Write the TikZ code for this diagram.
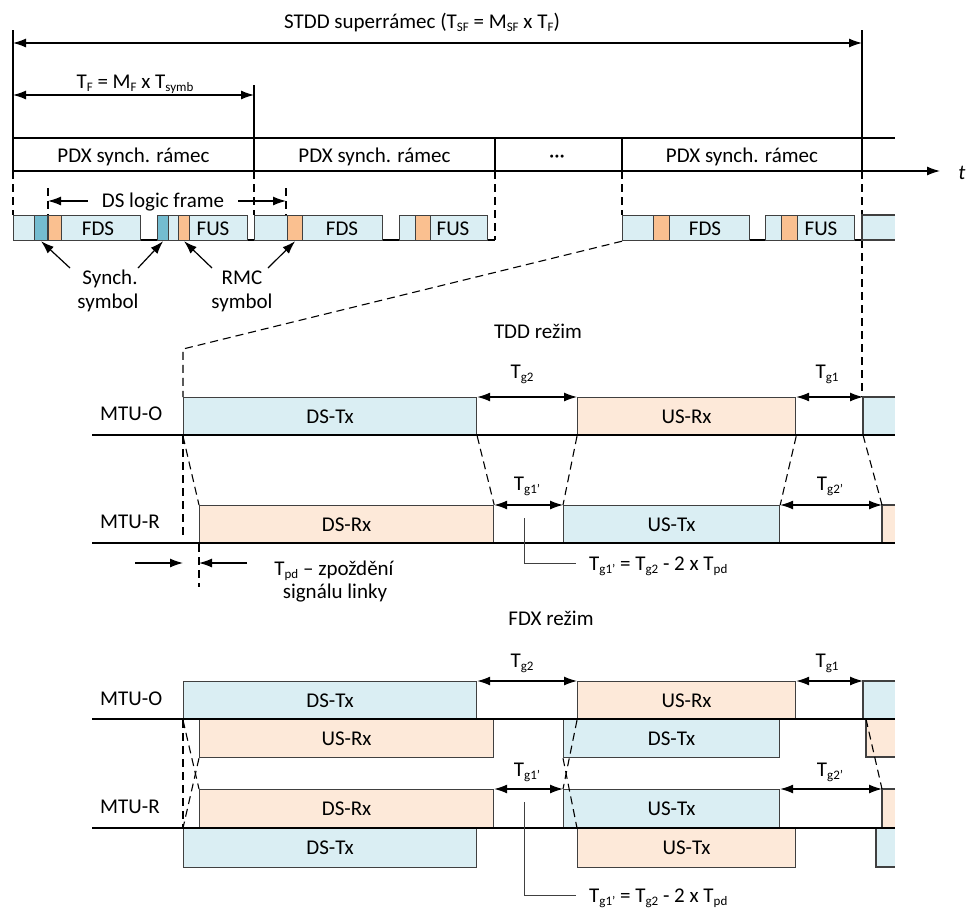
\documentclass[tikz,border=0pt]{standalone}
\usepackage{fontspec}
\setmainfont{Carlito}
\usetikzlibrary{arrows.meta}
\definecolor{blueL}{HTML}{DAEEF3}
\definecolor{orL}{HTML}{FDE9D9}
\definecolor{orM}{HTML}{FAC090}
\definecolor{tealS}{HTML}{74BCD0}
\definecolor{edge}{HTML}{404040}
\newcommand\sbs[1]{\raisebox{-3pt}{\fontsize{13}{13}\selectfont #1}}
\tikzset{
  txt/.style={font=\fontsize{21}{25}\selectfont, inner sep=0pt, anchor=base},
  txtw/.style={txt, anchor=base west},
  bx/.style={draw=edge, line width=1.2pt, anchor=north west, inner sep=0pt, font=\fontsize{21}{25}\selectfont},
  bl/.style={bx, fill=blueL},
  orb/.style={bx, fill=orL},
  sb/.style={bx, fill=blueL, minimum height=25pt},
  st/.style={bx, fill=tealS, minimum height=25pt},
  so/.style={bx, fill=orM, minimum height=25pt},
  axis/.style={line width=1.2pt, black},
  dsh/.style={line width=1.1pt, dash pattern=on 8pt off 5pt},
  tipL/.tip={Latex[length=13pt,width=9pt]},
  dim/.style={line width=1.2pt, tipL-tipL},
  arr/.style={line width=1.2pt, -tipL},
  thin/.style={line width=1pt, edge},
}
\begin{document}
\begin{tikzpicture}[x=1pt,y=-1pt]
\useasboundingbox (0,0) rectangle (967,908);

% ---------- top dimensions ----------
\draw[axis] (13,30) -- (13,171);
\draw[axis] (862,30) -- (862,171);
\draw[axis] (254,85) -- (254,171);
\draw[axis] (495,138) -- (495,171);
\draw[axis] (622,138) -- (622,171);
\draw[axis] (13,138) -- (895,138);
\draw[axis,-tipL] (13,171) -- (940,171);
\node[txt,font=\fontsize{21}{25}\selectfont\itshape] (tlab) at (962,179) {t};

\draw[dim] (13,43) -- (862,43);
\node[txt] (title) at (422,28) {STDD superrámec (T\sbs{SF} = M\sbs{SF} x T\sbs{F})};
\draw[dim] (13,95) -- (254,95);
\node[txt] (tf) at (135,88) {T\sbs{F} = M\sbs{F} x T\sbs{symb}};

\node[txt] (pdx1) at (133.5,162) {PDX synch. rámec};
\node[txt] (pdx2) at (374.5,162) {PDX synch. rámec};
\node[txt] (dots) at (557,162) {···};
\node[txt] (pdx3) at (742,162) {PDX synch. rámec};

% ---------- dashed projections ----------
\draw[dsh] (13,171) -- (13,215);
\draw[dsh] (254,171) -- (254,215);
\draw[dsh] (495,171) -- (495,240);
\draw[dsh] (622,171) -- (622,215);
\draw[dsh] (862,171) -- (862,215);
\draw[dsh] (862,240) -- (862,397);
\draw[dsh] (48,188) -- (48,215);
\draw[dsh] (286,188) -- (286,215);

\draw[dim] (48,201) -- (286,201);
\node[txt, fill=white, inner xsep=14pt, inner ysep=3pt] (dslf) at (163,207) {DS logic frame};

% ---------- small frame row ----------
\draw[axis] (13,240) -- (495,240);
\draw[axis] (622,240) -- (895,240);
\node[sb, minimum width=127pt] (s1) at (13,215) {};
\node[st, minimum width=13pt] (s1t) at (34,215) {};
\node[so, minimum width=13pt] (s1r) at (48,215) {};
\node[sb, minimum width=90pt] (s2) at (157,215) {};
\node[st, minimum width=11pt] (s2t) at (157,215) {};
\node[so, minimum width=11pt] (s2r) at (178,215) {};
\node[sb, minimum width=128pt] (s3) at (254,215) {};
\node[so, minimum width=15pt] (s3r) at (287,215) {};
\node[sb, minimum width=88pt] (s4) at (399,215) {};
\node[so, minimum width=15pt] (s4r) at (415,215) {};
\node[sb, minimum width=127pt] (s5) at (622,215) {};
\node[so, minimum width=16pt] (s5r) at (653,215) {};
\node[sb, minimum width=89pt] (s6) at (765,215) {};
\node[so, minimum width=16pt] (s6r) at (781,215) {};
\fill[blueL] (862,215) rectangle (895,240);
\draw[line width=1.2pt, edge] (895,215) -| (862,240) -- (895,240);

\node[txt] (f1) at (98,235) {FDS};
\node[txt] (f2) at (213,235) {FUS};
\node[txt] (f3) at (342,235) {FDS};
\node[txt] (f4) at (453,235) {FUS};
\node[txt] (f5) at (705,235) {FDS};
\node[txt] (f6) at (821,235) {FUS};

\draw[arr] (70,268) -- (s1t.south);
\draw[arr] (138,268) -- (s2t.south);
\draw[arr] (212,268) -- (s2r.south);
\draw[arr] (268,268) -- (s3r.south);
\node[txt] (syn1) at (110,284) {Synch.};
\node[txt] (syn2) at (108,308) {symbol};
\node[txt] (rmc1) at (242,284) {RMC};
\node[txt] (rmc2) at (242,308) {symbol};

\draw[dsh] (s5.south west) -- (183,349) -- (183,397);

% ---------- TDD ----------
\node[txt] (tdd) at (538,338) {TDD režim};
\node[txtw] (mtuoA) at (100,420) {MTU-O};
\node[txtw] (mturA) at (100,528) {MTU-R};

\node[bl, minimum width=293pt, minimum height=38pt] (dstxA) at (183,397) {DS-Tx};
\node[orb, minimum width=218pt, minimum height=38pt] (usrxA) at (577,397) {US-Rx};
\fill[blueL] (863,397) rectangle (895,435);
\draw[line width=1.2pt, edge] (895,397) -| (863,435);
\node[orb, minimum width=294pt, minimum height=38pt] (dsrxA) at (199,505) {DS-Rx};
\node[bl, minimum width=216pt, minimum height=38pt] (ustxA) at (563,505) {US-Tx};
\fill[orL] (882,505) rectangle (895,543);
\draw[line width=1.2pt, edge] (895,505) -| (882,543);
\draw[axis] (92,435) -- (895,435);
\draw[axis] (92,543) -- (895,543);

\draw[dim] (dstxA.north east) -- (usrxA.north west);
\draw[dim] (usrxA.north east) -- (863,397);
\draw[dim] (dsrxA.north east) -- (ustxA.north west);
\draw[dim] (ustxA.north east) -- (882,505);
\node[txt] (tg2A) at (522,378) {T\sbs{g2}};
\node[txt] (tg1A) at (827,378) {T\sbs{g1}};
\node[txt] (tg1pA) at (527,490) {T\sbs{g1'}};
\node[txt] (tg2pA) at (830,490) {T\sbs{g2'}};

\draw[dsh] (dstxA.south west) -- (dsrxA.north west);
\draw[dsh] (dstxA.south east) -- (dsrxA.north east);
\draw[dsh] (usrxA.south west) -- (ustxA.north west);
\draw[dsh] (usrxA.south east) -- (ustxA.north east);
\draw[dsh] (863,435) -- (882,505);
\draw[dsh] (dstxA.south west) -- (183,540);
\draw[dsh] (dsrxA.south west) -- (199,587);

\draw[arr] (135,563) -- (183,563);
\draw[arr] (247,563) -- (199,563);
\node[txt] (tpd1) at (334,575) {T\sbs{pd} – zpoždění};
\node[txt] (tpd2) at (335,598) {signálu linky};

\draw[thin] (524,518) |- (576,563);
\node[txtw] (formA) at (589,570) {T\sbs{g1'} = T\sbs{g2} - 2 x T\sbs{pd}};

% ---------- FDX ----------
\node[txt] (fdx) at (551,625) {FDX režim};
\node[txtw] (mtuoB) at (100,705) {MTU-O};
\node[txtw] (mturB) at (100,813) {MTU-R};

\node[bl, minimum width=293pt, minimum height=38pt] (dstxB) at (183,681) {DS-Tx};
\node[orb, minimum width=218pt, minimum height=38pt] (usrxB) at (577,681) {US-Rx};
\fill[blueL] (863,681) rectangle (895,719);
\draw[line width=1.2pt, edge] (895,681) -| (863,719);
\node[orb, minimum width=294pt, minimum height=38pt] (usrxC) at (199,719) {US-Rx};
\node[bl, minimum width=216pt, minimum height=38pt] (dstxC) at (563,719) {DS-Tx};
\fill[orL] (866,719) rectangle (895,757);
\draw[line width=1.2pt, edge] (866,719) |- (895,757);
\node[orb, minimum width=294pt, minimum height=39pt] (dsrxB) at (199,789) {DS-Rx};
\node[bl, minimum width=216pt, minimum height=39pt] (ustxB) at (563,789) {US-Tx};
\fill[orL] (882,789) rectangle (895,828);
\draw[line width=1.2pt, edge] (895,789) -| (882,828);
\node[bl, minimum width=293pt, minimum height=39pt] (dstxD) at (183,828) {DS-Tx};
\node[orb, minimum width=218pt, minimum height=39pt] (ustxC) at (577,828) {US-Tx};
\fill[blueL] (876,828) rectangle (895,867);
\draw[line width=1.2pt, edge] (876,828) |- (895,867);
\draw[axis] (92,719) -- (895,719);
\draw[axis] (92,828) -- (895,828);

\draw[dim] (dstxB.north east) -- (usrxB.north west);
\draw[dim] (usrxB.north east) -- (863,681);
\draw[dim] (dsrxB.north east) -- (ustxB.north west);
\draw[dim] (ustxB.north east) -- (882,789);
\node[txt] (tg2B) at (522,667) {T\sbs{g2}};
\node[txt] (tg1B) at (827,667) {T\sbs{g1}};
\node[txt] (tg1pB) at (527,776) {T\sbs{g1'}};
\node[txt] (tg2pB) at (830,776) {T\sbs{g2'}};

\draw[dsh] (dstxB.south west) -- (dstxD.north west);
\draw[dsh] (dstxB.south west) -- (dsrxB.north west);
\draw[dsh] (usrxC.south west) -- (dstxD.north west);
\draw[dsh] (usrxB.south west) -- (ustxB.north west);
\draw[dsh] (dstxC.south west) -- (ustxC.north west);
\draw[dsh] (866,719) -- (882,789);

\draw[thin] (524,802) |- (576,895);
\node[txtw] (formB) at (589,902) {T\sbs{g1'} = T\sbs{g2} - 2 x T\sbs{pd}};
\end{tikzpicture}
\end{document}
